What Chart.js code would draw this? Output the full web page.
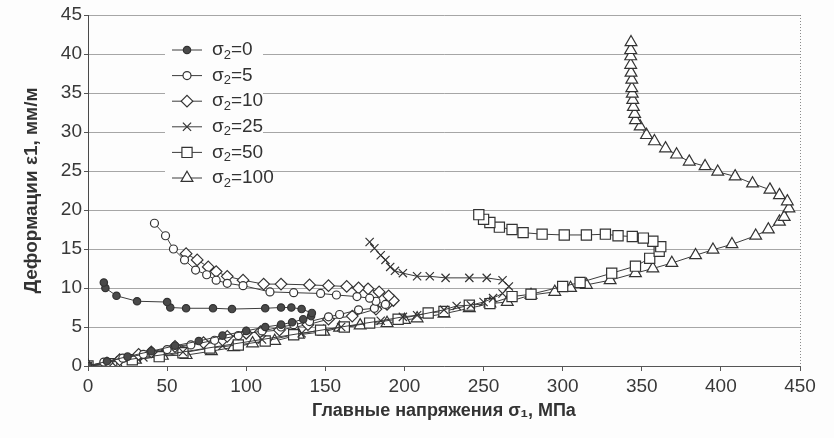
<!DOCTYPE html>
<html>
<head>
<meta charset="utf-8">
<script src="https://cdn.jsdelivr.net/npm/chart.js@4/dist/chart.umd.min.js"></script>
<style>
  html, body { margin: 0; padding: 0; background: #fdfdfd; }
  #wrap { width: 834px; height: 438px; }
</style>
</head>
<body>
<div id="wrap"><canvas id="c" width="834" height="438"></canvas></div>
<script>
// Principal stress σ1 (MPa) and strain ε1 (mm/m) for each lateral stress σ2
const sig0 = [0, 12, 25, 40, 55, 70, 85, 100, 112, 122, 129, 136, 141, 141.5, 135, 128.5, 122, 112, 91, 79, 62, 52, 50, 31, 18, 11, 10];
const eps0 = [0, 0.6, 1.2, 1.9, 2.6, 3.2, 3.9, 4.5, 5.0, 5.3, 5.6, 6.0, 6.4, 6.8, 7.3, 7.5, 7.5, 7.4, 7.3, 7.4, 7.4, 7.5, 8.2, 8.3, 9.0, 10.0, 10.7];

const sig5 = [0, 10, 22, 35, 50, 65, 80, 95, 110, 122, 130, 140, 152, 159, 171, 181, 188, 182, 178, 170, 157, 147, 130, 115, 98, 88, 81, 75, 68, 61, 54, 49, 42];
const eps5 = [0, 0.5, 1.0, 1.5, 2.1, 2.7, 3.3, 3.9, 4.5, 5.0, 5.3, 5.7, 6.3, 6.6, 7.2, 7.4, 7.9, 8.3, 8.7, 8.9, 9.1, 9.3, 9.4, 9.5, 10.3, 10.6, 11.0, 11.7, 12.3, 13.6, 15.0, 16.7, 18.3];

const sig10 = [0, 12, 20, 32, 40, 55, 73, 88, 100, 109, 121, 139, 152, 167, 182, 189, 193, 190, 184, 177, 171, 163.5, 152, 140, 122, 111, 98, 88, 81, 76, 69, 62];
const eps10 = [0, 0.4, 0.8, 1.5, 1.8, 2.5, 3.0, 3.8, 4.2, 4.4, 4.6, 5.3, 6.0, 6.4, 7.3, 7.9, 8.4, 9.0, 9.5, 9.9, 10.0, 10.2, 10.3, 10.4, 10.5, 10.5, 11.0, 11.5, 12.1, 12.7, 13.6, 14.4];

const sig25 = [0, 15, 35, 60, 85, 110, 135, 160, 185, 199, 208, 225, 233, 242, 250, 256, 262, 266, 262, 252, 241, 226, 216, 208, 199, 194, 191, 188, 185, 181, 178];
const eps25 = [0, 0.5, 1.1, 1.8, 2.6, 3.4, 4.2, 5.0, 5.8, 6.3, 6.5, 7.2, 7.7, 7.8, 8.2, 8.7, 9.3, 10.2, 11.0, 11.3, 11.3, 11.3, 11.5, 11.5, 11.9, 12.2, 12.7, 13.6, 14.2, 15.1, 15.9];

const sig50 = [0, 15, 28, 45, 60, 77, 95, 112, 130, 147, 162, 178, 196, 215, 225, 241, 254, 268, 280, 300, 311, 331, 346, 355, 361, 362, 357, 351, 344, 335, 327, 315, 301, 287, 275, 268, 260, 254, 250, 247];
const eps50 = [0, 0.3, 0.8, 1.2, 1.7, 2.3, 2.7, 3.2, 4.0, 4.6, 5.0, 5.5, 6.0, 6.8, 7.0, 7.8, 8.0, 8.9, 9.2, 10.2, 10.7, 11.9, 12.8, 13.8, 14.7, 15.3, 16.0, 16.4, 16.6, 16.7, 16.9, 16.8, 16.8, 16.9, 17.1, 17.5, 17.8, 18.4, 18.8, 19.4];

const sig100 = [0, 18, 30, 47, 62, 78, 92, 104, 118, 133, 149, 159, 172, 189, 200, 208, 225, 241, 254, 265, 280, 295, 305, 315, 330, 346, 357, 369, 384, 395, 407, 422, 430, 437, 440, 443, 442, 437, 431, 420, 409, 398, 390, 380, 372, 365, 358, 353, 349, 346, 345.5, 344.7, 344.3, 344, 343.7, 343.7, 343.2, 343, 343, 343, 343.2];
const eps100 = [0, 0.3, 0.8, 1.3, 1.4, 1.9, 2.4, 2.9, 3.2, 4.0, 4.4, 4.9, 5.2, 5.5, 5.9, 6.1, 6.7, 7.4, 8.0, 8.2, 9.1, 9.5, 10.0, 10.4, 11.0, 11.9, 12.5, 13.2, 14.2, 14.9, 15.6, 16.7, 17.5, 18.5, 19.1, 20.2, 21.1, 21.9, 22.6, 23.4, 24.3, 24.9, 25.6, 26.2, 27.1, 27.9, 28.8, 29.6, 30.7, 31.5, 32.3, 33.2, 34.1, 34.9, 35.6, 36.7, 37.6, 38.6, 39.7, 40.5, 41.5];

// Legend values of σ2
const sigma2Values = ['0', '5', '10', '25', '50', '100'];

// Axis ranges and tick steps
const xMin = 0, xMax = 450, xStep = 50;
const yMin = 0, yMax = 45, yStep = 5;

const INK = '#3c3c3c';
const pts = (xs, ys) => xs.map((x, i) => ({ x: x, y: ys[i] }));

const styles = [
  { pointStyle: 'circle',   radius: 3.7, fill: '#4a4a4a' },
  { pointStyle: 'circle',   radius: 4.0, fill: '#ffffff' },
  { pointStyle: 'rectRot',  radius: 5.8, fill: '#ffffff' },
  { pointStyle: 'crossRot', radius: 5.8, fill: '#ffffff' },
  { pointStyle: 'rect',     radius: 7.2, fill: '#ffffff' },
  { pointStyle: 'triangle', radius: 6.8, fill: '#ffffff' }
];
const seriesData = [pts(sig0, eps0), pts(sig5, eps5), pts(sig10, eps10), pts(sig25, eps25), pts(sig50, eps50), pts(sig100, eps100)];

const datasets = seriesData.map((d, i) => ({
  label: 'σ2=' + sigma2Values[i],
  data: d,
  showLine: true,
  borderColor: INK,
  borderWidth: 1,
  pointStyle: styles[i].pointStyle,
  pointRadius: styles[i].radius,
  pointBackgroundColor: styles[i].fill,
  pointBorderColor: '#333333',
  pointBorderWidth: 1.2,
  pointHoverRadius: styles[i].radius
}));

// Legend drawn in the upper-left of the plot, with a subscript "2"
const legendPlugin = {
  id: 'sigmaLegend',
  beforeDatasetsDraw(chart) {
    const ctx = chart.ctx;
    const x0 = 165, y0 = 38, w = 98, h = 152;
    ctx.save();
    ctx.fillStyle = '#fdfdfd';
    ctx.fillRect(x0, y0, w, h);
    const rowH = 25.6;
    for (let i = 0; i < sigma2Values.length; i++) {
      const cy = 50 + i * rowH;
      ctx.strokeStyle = INK;
      ctx.lineWidth = 1;
      ctx.beginPath();
      ctx.moveTo(172, cy);
      ctx.lineTo(202, cy);
      ctx.stroke();
      ctx.fillStyle = styles[i].fill;
      ctx.strokeStyle = '#333333';
      ctx.lineWidth = 1.2;
      if (Chart.helpers && Chart.helpers.drawPoint) {
        Chart.helpers.drawPoint(ctx, { pointStyle: styles[i].pointStyle, radius: styles[i].radius, rotation: 0, borderWidth: 1.2 }, 187, cy);
      }
      // label text
      ctx.fillStyle = '#333333';
      ctx.textBaseline = 'middle';
      ctx.textAlign = 'left';
      ctx.font = '19px "Liberation Sans", Arial, sans-serif';
      let tx = 212;
      ctx.fillText('σ', tx, cy);
      tx += ctx.measureText('σ').width;
      ctx.font = '13px "Liberation Sans", Arial, sans-serif';
      ctx.fillText('2', tx, cy + 5);
      tx += ctx.measureText('2').width;
      ctx.font = '19px "Liberation Sans", Arial, sans-serif';
      ctx.fillText('=' + sigma2Values[i], tx, cy);
    }
    ctx.restore();
  },
  afterDraw(chart) {
    // dotted right border of the plot area
    const a = chart.chartArea, ctx = chart.ctx;
    ctx.save();
    ctx.strokeStyle = 'rgba(110,110,110,0.8)';
    ctx.lineWidth = 1;
    ctx.setLineDash([1, 2]);
    ctx.beginPath();
    ctx.moveTo(Math.round(a.right) + 0.5, a.top);
    ctx.lineTo(Math.round(a.right) + 0.5, a.bottom);
    ctx.stroke();
    ctx.restore();
  }
};

new Chart(document.getElementById('c'), {
  type: 'scatter',
  data: { datasets: datasets },
  plugins: [legendPlugin],
  options: {
    responsive: false,
    animation: false,
    events: [],
    layout: { padding: { left: 0, right: 34, top: 15, bottom: 0 } },
    plugins: { legend: { display: false }, tooltip: { enabled: false } },
    scales: {
      x: {
        type: 'linear',
        min: xMin, max: xMax,
        ticks: { stepSize: xStep, color: '#383838', padding: 4, font: { family: '"Liberation Sans", Arial, sans-serif', size: 19 } },
        grid: { display: true, drawOnChartArea: false, drawTicks: true, tickLength: 5, tickColor: '#555555' },
        border: { display: true, color: '#555555', width: 1, dash: [3, 1] },
        title: {
          display: true,
          text: 'Главные напряжения σ₁, МПа',
          color: '#333333',
          padding: { top: 0, bottom: 16 },
          font: { family: '"Liberation Sans Narrow", "Liberation Sans", "DejaVu Sans", sans-serif', size: 18, weight: 'bold' }
        },
        afterFit(s) { s.height = 72; }
      },
      y: {
        type: 'linear',
        min: yMin, max: yMax,
        ticks: { stepSize: yStep, color: '#383838', padding: 2, font: { family: '"Liberation Sans", Arial, sans-serif', size: 19 } },
        grid: { color: 'rgba(120,120,120,0.65)', lineWidth: 1, borderDash: [2, 2], drawTicks: true, tickLength: 4, tickColor: '#555555', tickBorderDash: [] },
        border: { display: true, color: '#4a4a4a', width: 1 },
        title: {
          display: true,
          text: 'Деформации ε1, мм/м',
          color: '#333333',
          padding: { top: 20, bottom: 0 },
          font: { family: '"Liberation Sans", Arial, sans-serif', size: 19, weight: 'bold' }
        },
        afterFit(s) { s.width = 88; }
      }
    }
  }
});
</script>
</body>
</html>
